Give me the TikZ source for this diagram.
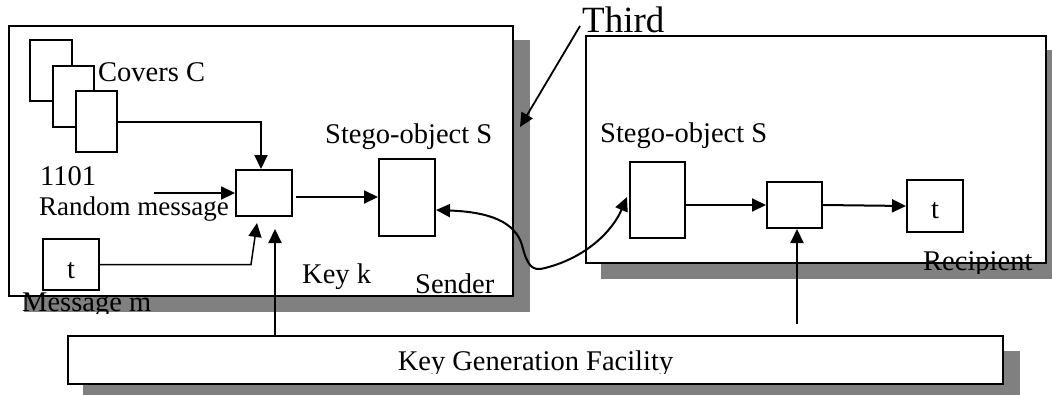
\documentclass[tikz,border=0pt]{standalone}
\usepackage{fontspec}
\setmainfont{Liberation Serif}
\usetikzlibrary{arrows.meta,calc,backgrounds}
\begin{document}
\begin{tikzpicture}[x=1pt,y=-1pt,
  every node/.style={font=\fontsize{28.5}{32}\selectfont},
  box/.style={draw, line width=2pt, fill=white, inner sep=0pt},
  shadowfill/.style={fill=black!50},
  lbl/.style={anchor=base west, inner sep=0pt},
  arr/.style={line width=2pt, -{Triangle[length=14pt,width=13pt]}},
  thinarr/.style={line width=1.5pt, -{Triangle[length=14pt,width=13pt]}}]
\useasboundingbox (0,0) rectangle (1052,394);
% frames
\node[box, minimum width=504pt, minimum height=270pt] (sender) at (261,161) {};
\node[box, minimum width=460pt, minimum height=227pt] (recip) at (816,149.5) {};
\node[box, minimum width=935pt, minimum height=48pt] (keygen) at (535.5,360) {};
\begin{scope}[on background layer]
  \fill[shadowfill] ($(sender.north west)+(16,15)$) rectangle ($(sender.south east)+(16,15)$);
  \fill[shadowfill] ($(recip.north west)+(16,15)$) rectangle ($(recip.south east)+(16,15)$);
  \fill[shadowfill] ($(keygen.north west)+(16,16)$) rectangle ($(keygen.south east)+(16,16)$);
\end{scope}
% sender contents
\node[box, minimum width=42pt, minimum height=61pt] (cov1) at (51,70.5) {};
\node[box, minimum width=41pt, minimum height=61pt] (cov2) at (73.5,96.5) {};
\node[box, minimum width=41pt, minimum height=61pt] (cov3) at (96.5,121.5) {};
\node[box, minimum width=56pt, minimum height=46pt] (mix) at (264,193) {};
\node[box, minimum width=56pt, minimum height=77pt] (sstego) at (407,197.5) {};
\node[box, minimum width=56pt, minimum height=51pt] (mbox) at (71,264.5) {};
% recipient contents
\node[box, minimum width=55pt, minimum height=76pt] (rstego) at (657.5,200) {};
\node[box, minimum width=55pt, minimum height=46pt] (rmix) at (794.5,205) {};
\node[box, minimum width=56pt, minimum height=52pt] (rt) at (935,206) {};
% texts
\node[lbl] (covt) at (98,81) {Covers C};
\node[lbl] (num) at (40,185) {1101};
\node[lbl, font=\fontsize{27}{32}\selectfont] (rand) at (39,215) {Random message};
\node[lbl] (sst) at (325,143) {Stego-object S};
\node[lbl] (keyk) at (302,283) {Key k};
\node[lbl] (sendt) at (415,293) {Sender};
\node[lbl] (rst) at (600,142) {Stego-object S};
\node[lbl, font=\fontsize{37}{40}\selectfont] (third) at (582,32) {Third};
\node[anchor=base, inner sep=0pt] (tm) at (71,278) {t};
\node[anchor=base, inner sep=0pt] (tr) at (935,218) {t};
\begin{scope}
  \clip (0,280) rectangle (300,313.5);
  \node[lbl] (msgm) at (22,311) {Message m};
\end{scope}
\begin{scope}
  \clip (0,0) rectangle (1052,273.5);
  \node[lbl] (rect) at (923,270) {Recipient};
\end{scope}
\begin{scope}
  \clip (70,338) rectangle (1000,373);
  \node[anchor=base, inner sep=0pt] (kgt) at (535.5,370) {Key Generation Facility};
\end{scope}
% connectors, sender
\draw[arr] (cov3.east) -| ($(mix.north)+(-3,0)$);
\coordinate (rm) at (154,193);
\draw[arr] (rm) -- (mix.west);
\draw[arr] ($(mix.east)+(3,4)$) -- ($(sstego.west)+(0,-0.5)$);
\draw[thinarr] (mbox.east) -- ++(151,0) -- ($(mix.south)+(-7,6)$);
\coordinate (kk) at ($(mix.south)+(11,12)$);
\draw[arr] (keygen.north -| kk) -- (kk);
% connectors, recipient
\draw[arr] (rstego.east |- rmix.west) -- (rmix.west);
\draw[arr] (rmix.east) -- (rt.west);
\coordinate (rk) at ($(rmix.south)+(2.5,95)$);
\draw[arr] (rk) -- (rk |- rmix.south);
% channel curve
\draw[line width=2pt, {Triangle[length=14pt,width=13pt]}-{Triangle[length=14pt,width=13pt]}]
  ($(sstego.east)+(0,12.5)$) .. controls (490,212) and (515,222) .. (522,245)
  .. controls (527,265) and (532,272) .. (545,268)
  .. controls (585,258) and (612,232) .. ($(rstego.west)+(-2,-3)$);
% Third arrow
\draw[line width=1.8pt, -{Triangle[length=14pt,width=13pt]}] ($(third.base west)+(-2,-6)$) -- ($(sender.north east)+(6,102)$);
\end{tikzpicture}
\end{document}
